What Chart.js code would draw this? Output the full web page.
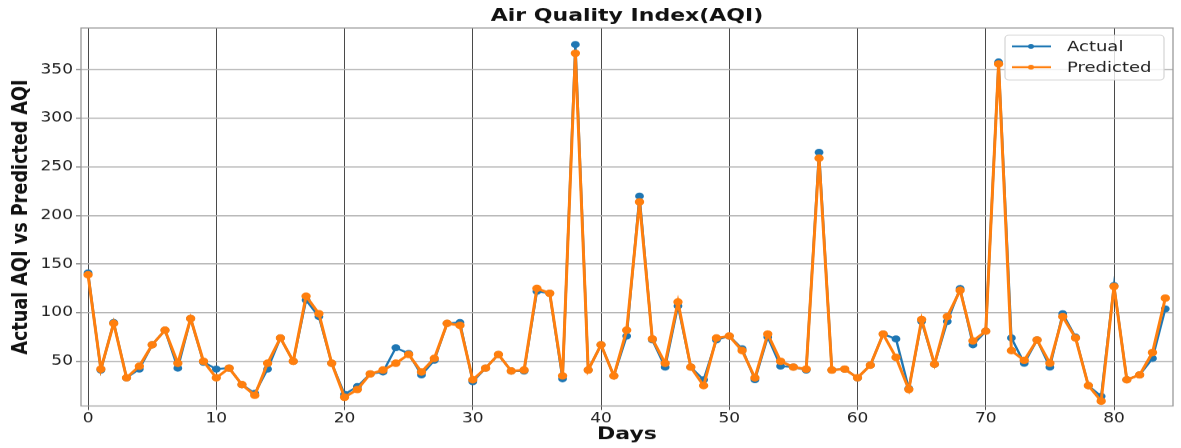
<!DOCTYPE html>
<html>
<head>
<meta charset="utf-8">
<script src="https://cdn.jsdelivr.net/npm/chart.js@4.4.1/dist/chart.umd.min.js"></script>
<style>
html,body{margin:0;padding:0;background:#fff;overflow:hidden;width:1181px;height:448px;}
#wrap{width:1181px;height:560px;transform:scaleY(0.8);transform-origin:0 0;}
canvas{display:block;}
</style>
</head>
<body>
<div id="wrap"><canvas id="c" width="1181" height="560"></canvas></div>
<script>
const days = Array.from({length: 85}, (_, i) => i);
const actual = [141,41,90,33,42,67,82,43,94,49,42,43,26,17,42,74,50,113,96,48,
  16,24,37,39,64,58,36,51,89,90,29,43,57,40,40,122,120,32,376,41,
  67,35,76,220,72,44,107,44,31,72,76,63,31,75,45,44,41,265,41,42,
  33,46,78,73,22,91,47,91,125,67,81,358,74,48,72,44,99,75,25,14,
  128,31,36,53,104];
const predicted = [139,42,89,33,45,67,82,48,94,50,33,43,26,15,48,74,50,117,99,48,
  13,21,37,41,48,57,39,53,89,87,31,43,57,40,41,125,120,35,367,41,
  67,35,82,214,73,48,111,44,25,74,76,61,33,78,50,44,42,259,41,42,
  33,46,78,54,21,93,47,96,123,71,81,356,61,51,72,48,96,74,25,9,
  127,31,36,59,115];
const xTicks = [0,10,20,30,40,50,60,70,80];
const yTicks = [50,100,150,200,250,300,350];
const seriesNames = ['Actual','Predicted'];
const seriesColors = ['#1f77b4','#ff7f0e'];

const framePlugin = {
  id: 'frame',
  afterDraw(chart) {
    const {ctx, chartArea: a} = chart;
    ctx.save();
    ctx.strokeStyle = '#9a9a9a';
    ctx.lineWidth = 1.3;
    ctx.strokeRect(a.left, a.top, a.right - a.left, a.bottom - a.top);
    // matplotlib-style legend
    const w = 159, h = 56;
    const x0 = a.right - 9 - w, y0 = a.top + 9;
    ctx.fillStyle = 'rgba(255,255,255,0.8)';
    ctx.strokeStyle = '#d4d4d4';
    ctx.lineWidth = 1.2;
    ctx.beginPath();
    if (ctx.roundRect) ctx.roundRect(x0, y0, w, h, 4); else ctx.rect(x0, y0, w, h);
    ctx.fill(); ctx.stroke();
    ctx.font = '18px "DejaVu Sans"';
    ctx.textBaseline = 'middle';
    chart.data.datasets.forEach((ds, i) => {
      const yy = y0 + 14 + i * 26;
      ctx.strokeStyle = ds.borderColor;
      ctx.lineWidth = 2.4;
      ctx.beginPath(); ctx.moveTo(x0 + 7, yy); ctx.lineTo(x0 + 46, yy); ctx.stroke();
      ctx.fillStyle = ds.borderColor;
      ctx.beginPath(); ctx.arc(x0 + 26, yy, 3, 0, Math.PI * 2); ctx.fill();
      ctx.fillStyle = '#222';
      ctx.fillText(ds.label, x0 + 62, yy + 1);
    });
    ctx.restore();
  }
};

new Chart(document.getElementById('c'), {
  type: 'line',
  data: {
    datasets: [
      {label: seriesNames[0], data: days.map((d, i) => ({x: d, y: actual[i]})),
       borderColor: seriesColors[0], backgroundColor: seriesColors[0],
       borderWidth: 2.4, pointRadius: 3.2, pointHoverRadius: 3.2, tension: 0, order: 2},
      {label: seriesNames[1], data: days.map((d, i) => ({x: d, y: predicted[i]})),
       borderColor: seriesColors[1], backgroundColor: seriesColors[1],
       borderWidth: 3, pointRadius: 3.2, pointHoverRadius: 3.2, tension: 0, order: 1}
    ]
  },
  options: {
    responsive: false,
    animation: false,
    devicePixelRatio: 1,
    layout: {padding: {left: 0, right: 8, top: 0, bottom: 0}},
    plugins: {
      legend: {display: false},
      tooltip: {enabled: false},
      title: {display: true, fullSize: false, text: 'Air Quality Index(AQI)', color: '#111',
        font: {family: 'DejaVu Sans', size: 22, weight: 'bold'}, padding: {top: 7, bottom: 1.6}}
    },
    scales: {
      x: {
        type: 'linear', min: -0.55, max: 84.6,
        afterFit(s) { s.height = 52.5; },
        afterBuildTicks(s) { s.ticks = xTicks.map(v => ({value: v})); },
        grid: {color: '#4a4a4a', lineWidth: 1, tickLength: 5, tickColor: '#4a4a4a'},
        border: {display: false},
        ticks: {color: '#222', font: {family: 'DejaVu Sans', size: 17}, padding: 1, maxRotation: 0},
        title: {display: true, text: 'Days', color: '#111',
          font: {family: 'DejaVu Sans', size: 22, weight: 'bold'}, padding: {top: 0, bottom: 4}}
      },
      y: {
        min: 4, max: 393,
        afterFit(s) { s.width = 81; },
        afterBuildTicks(s) { s.ticks = yTicks.map(v => ({value: v})); },
        grid: {color: '#b0b0b0', lineWidth: 1.5, tickLength: 5, tickColor: '#888'},
        border: {display: false},
        ticks: {color: '#222', font: {family: 'DejaVu Sans', size: 17}, padding: 3},
        title: {display: true, text: 'Actual AQI vs Predicted AQI', color: '#111',
          font: {family: 'DejaVu Sans', size: 22, weight: 'bold'}, padding: {top: 8, bottom: 0}}
      }
    }
  },
  plugins: [framePlugin]
});
</script>
</body>
</html>
